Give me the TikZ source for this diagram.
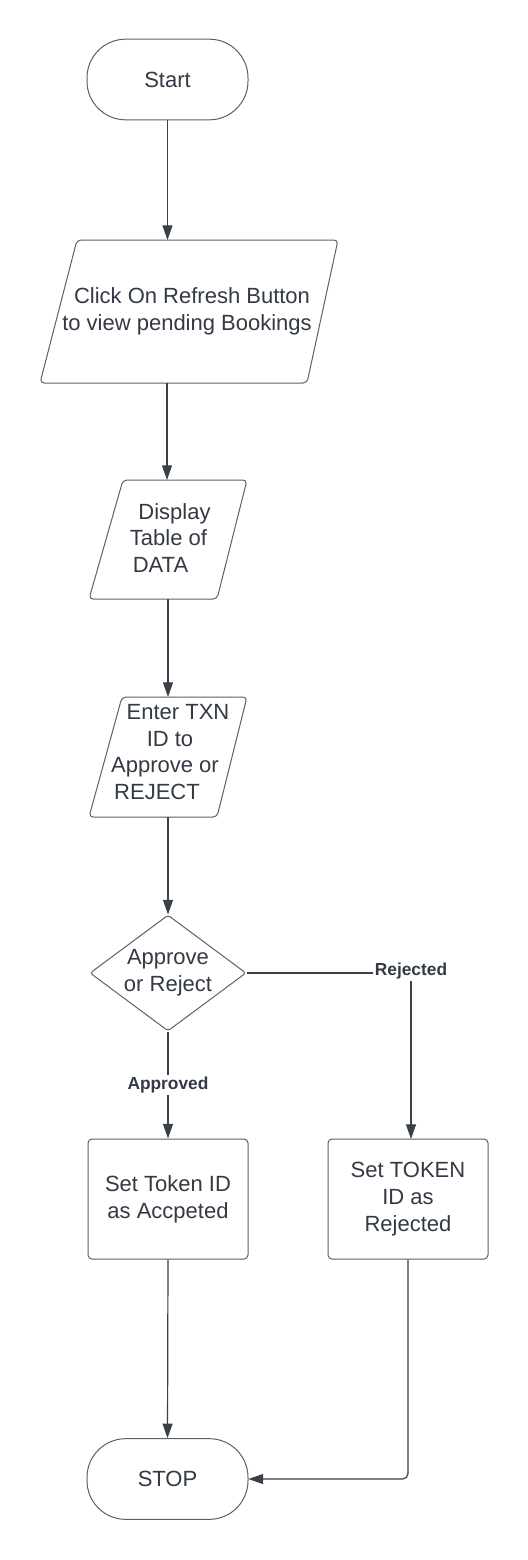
\documentclass[tikz,border=0pt]{standalone}
\usepackage{fontspec}
\setmainfont{Liberation Sans}
\usetikzlibrary{arrows.meta,shapes.geometric}
\definecolor{edge}{HTML}{5A616B}
\definecolor{conn}{HTML}{3A4048}
\definecolor{txt}{HTML}{333A44}
\begin{document}
\begin{tikzpicture}[x=0.75pt,y=-0.75pt,
  every node/.style={text=txt,font=\fontsize{16.5pt}{20pt}\selectfont},
  term/.style={draw=edge,line width=0.75pt,rounded corners=29pt,minimum width=120.75pt,minimum height=60.5pt,inner sep=0pt},
  procbox/.style={draw=edge,line width=0.75pt,rounded corners=3pt,minimum width=120pt,minimum height=90pt,inner sep=0pt,align=center},
  para/.style={draw=edge,line width=0.75pt,rounded corners=3pt},
  decis/.style={draw=edge,line width=0.75pt,shape=diamond,aspect=1.345,minimum width=117pt,minimum height=87pt,inner sep=0pt,align=center,rounded corners=2pt},
  txtnode/.style={align=center,inner sep=0pt},
  arr/.style={draw=conn,line width=0.9pt,-{Triangle[length=11pt,width=7.5pt]}},
  lab/.style={fill=white,inner sep=1.5pt,font=\bfseries\fontsize{13pt}{15pt}\selectfont}]
\useasboundingbox[fill=white] (0,0) rectangle (528,1560);

% Start
\node[term] (start) at (167.5,79.5) {Start};

% Click parallelogram
\draw[para] (77,240) -- (338,240) -- (307,383) -- (40,383) -- cycle;
\node[txtnode] (click) at (189.5,311) {\hspace*{3.75pt}Click On Refresh Button\\\hspace*{-3.75pt}to view pending Bookings};
\coordinate (clicktop) at (167.5,240);
\coordinate (clickbot) at (167,383);

% Display parallelogram
\draw[para] (123,480) -- (247,480) -- (217,599) -- (89,599) -- cycle;
\node[txtnode] (disp) at (168,538) {\hspace*{9.75pt}Display\\\hspace*{0.75pt}Table of\\\hspace*{-11.25pt}DATA};
\coordinate (disptop) at (167,480);
\coordinate (dispbot) at (168,599);

% Enter parallelogram
\draw[para] (122,697) -- (247,697) -- (217,817) -- (89,817) -- cycle;
\node[txtnode] (enter) at (168,752) {\hspace*{15pt}Enter TXN\\\hspace*{3pt}ID to\\\hspace*{-4.5pt}Approve or\\\hspace*{-16.5pt}REJECT};
\coordinate (entertop) at (168,697);
\coordinate (enterbot) at (168,817);

% Decision
\node[decis] (dec) at (168,973) {Approve\\or Reject};

% Process boxes
\node[procbox] (acc) at (168,1199) {Set Token ID\\as Accpeted};
\node[procbox] (rej) at (408,1199) {Set TOKEN\\ID as\\Rejected};
\coordinate (rejtop) at (411,1139);

% Stop
\node[term] (stop) at (167.5,1479) {STOP};

% Connectors
\draw[arr] (start.south) -- (clicktop);
\draw[arr] (clickbot) -- (disptop);
\draw[arr] (dispbot) -- (entertop);
\draw[arr] (enterbot) -- (dec.north);
\draw[arr] (dec.south) -- node[lab,pos=0.5] (applab) {Approved} (acc.north);
\draw[arr] (dec.east) -| (rejtop);
\node[lab] (rejlab) at (411,971) {Rejected};
\draw[arr] (acc.south) -- (stop.north);
\draw[arr,rounded corners=4pt] (rej.south) |- (stop.east);
\end{tikzpicture}
\end{document}
